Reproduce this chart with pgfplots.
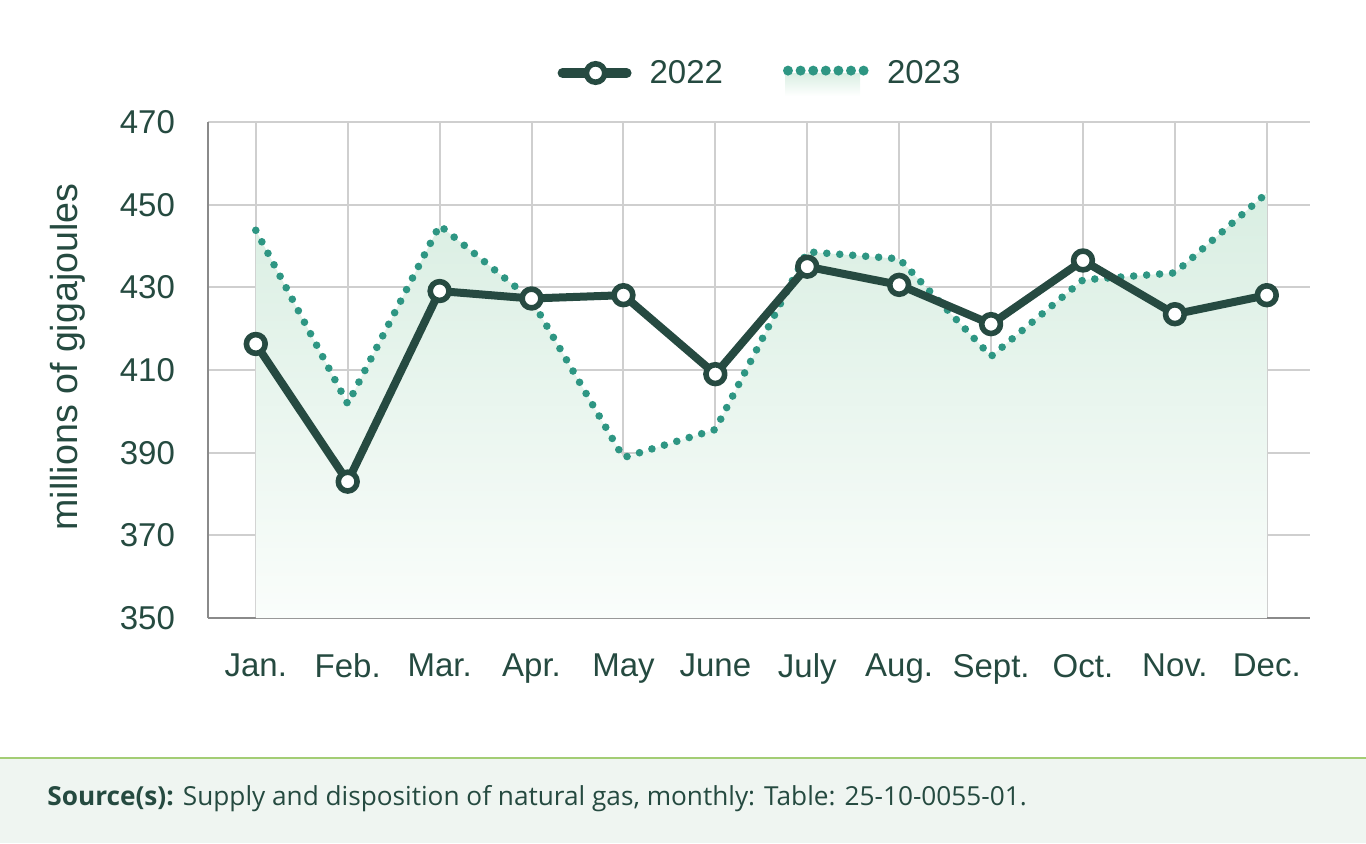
\documentclass[border=0pt]{standalone}
\usepackage{fontspec}
\setmainfont{Liberation Sans}
\newfontfamily\footfont{Open Sans}
\usepackage{pgfplots}
\pgfplotsset{compat=1.18}
\definecolor{txt}{HTML}{254A40}
\definecolor{lineA}{HTML}{264A41}
\definecolor{dotB}{HTML}{2E9683}
\definecolor{gridc}{HTML}{CFCFCF}
\definecolor{axisc}{HTML}{8A8A8A}
\definecolor{fillTop}{HTML}{D9EEE2}
\definecolor{fillBot}{HTML}{FAFDFB}
\definecolor{footbg}{HTML}{EFF5F1}
\definecolor{footline}{HTML}{A3CD74}

\pgfplotstableread{
x y
0 416.3
1 383.0
2 429.1
3 427.3
4 428.1
5 409.0
6 435.0
7 430.6
8 421.1
9 436.5
10 423.5
11 428.1
}\dataA

\pgfplotstableread{
x y
0 443.8
1 401.8
2 445.0
3 427.0
4 388.8
5 395.6
6 438.6
7 436.9
8 413.3
9 431.8
10 433.5
11 452.8
}\dataB

\pgfplotstableread{
x y
0 350
0 443.8
1 401.8
2 445.0
3 427.0
4 388.8
5 395.6
6 438.6
7 436.9
8 413.3
9 431.8
10 433.5
11 452.8
11 350
}\dataFill

\begin{document}
\begin{tikzpicture}
\path[use as bounding box] (0pt,0pt) rectangle (683pt,421.5pt);
\fill[footbg] (0pt,0pt) rectangle (683pt,42.5pt);
\draw[footline, line width=1pt] (0pt,42.5pt) -- (683pt,42.5pt);
\node[anchor=base west, inner sep=0pt, text=txt, font=\footfont\fontsize{13.1}{15}\selectfont] at (23.5pt,19pt) {\textbf{Source(s):} Supply and disposition of natural gas, monthly: Table: 25-10-0055-01.};
\node[rotate=90, text=txt, font=\fontsize{18.8}{22}\selectfont] at (34pt,243pt) {millions of gigajoules};

\begin{axis}[
  at={(104pt,112.5pt)}, anchor=south west,
  scale only axis, width=551pt, height=248pt,
  xmin=-0.52, xmax=11.47, ymin=350, ymax=470,
  axis lines*=left,
  axis line style={draw=axisc, line width=1.4pt, -},
  xtick={0,...,11},
  xticklabels={Jan.,Feb.,Mar.,Apr.,May,June,July,Aug.,Sept.,Oct.,Nov.,Dec.},
  ytick={350,370,...,470},
  major tick length=0pt,
  grid=major,
  major grid style={draw=gridc, line width=1pt},
  tick label style={text=txt, font=\fontsize{16.5}{20}\selectfont},
  yticklabel style={xshift=-13pt},
  xticklabel style={yshift=-14.5pt},
  /pgf/number format/assume math mode=true,
  clip=false,
  legend columns=2,
  legend style={at={(0.5,1)}, anchor=center, yshift=23pt, xshift=1pt, draw=none, fill=none,
    font=\fontsize{16.5}{20}\selectfont, text=txt,
    /tikz/every odd column/.append style={column sep=7pt},
    /tikz/every even column/.append style={column sep=28pt}},
  legend cell align=left,
]
\addlegendimage{legend image code/.code={
  \draw[lineA, line width=5pt, line cap=round] (2.5pt,0pt) -- (34.5pt,0pt);
  \draw[lineA, fill=white, line width=2.8pt] (19pt,0pt) circle (4.6pt);
}}
\addlegendentry{2022}
\addlegendimage{legend image code/.code={
  \shade[top color=fillTop, bottom color=white, draw=none] (1pt,-11.5pt) rectangle (38.5pt,0pt);
  \draw[dotB, line width=5pt, line cap=round, dash pattern=on 0pt off 6.3pt] (2.5pt,1.2pt) -- (40.5pt,1.2pt);
}}
\addlegendentry{2023}

\addplot[forget plot, draw=none, top color=fillTop, bottom color=fillBot] table[x=x,y=y] {\dataFill} -- cycle;
\addplot[forget plot, dotB, line width=3.8pt, line cap=round, dash pattern=on 0pt off 6.5pt, mark=none] table[x=x,y=y] {\dataB};
\addplot[forget plot, lineA, line width=4pt, line join=round, mark=*, mark size=4.7pt,
  mark options={fill=white, draw=lineA, line width=2.8pt, solid}] table[x=x,y=y] {\dataA};
\end{axis}
\end{tikzpicture}
\end{document}
